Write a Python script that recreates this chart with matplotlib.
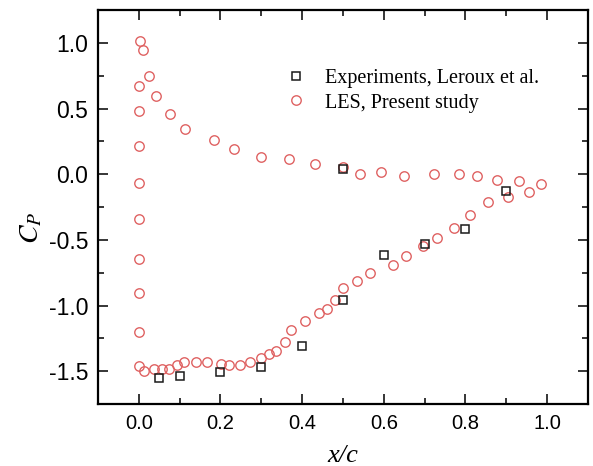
import matplotlib
matplotlib.use("Agg")
import matplotlib.pyplot as plt
from matplotlib.ticker import MultipleLocator

plt.rcParams["mathtext.fontset"] = "stix"

# LES pressure coefficient, suction side (upper branch of the curve)
les_upper_x = [0.002, 0.011, 0.025, 0.043, 0.076, 0.113, 0.184, 0.233, 0.300,
               0.369, 0.431, 0.500, 0.542, 0.592, 0.650, 0.723, 0.784, 0.828,
               0.877, 0.930, 0.955, 0.986]
les_upper_cp = [1.013, 0.947, 0.748, 0.593, 0.462, 0.341, 0.263, 0.190, 0.132,
                0.116, 0.076, 0.055, 0.005, 0.013, -0.013, 0.005, 0.005, -0.013,
                -0.045, -0.053, -0.134, -0.078]

# LES points clustered at the leading edge
les_le_x = [0.0, 0.0, 0.0, 0.0, 0.0, 0.0, 0.0, 0.0, 0.0]
les_le_cp = [0.674, 0.480, 0.214, -0.070, -0.339, -0.646, -0.902, -1.202, -1.462]

# LES pressure coefficient, lower branch
les_lower_x = [0.014, 0.038, 0.057, 0.074, 0.093, 0.111, 0.140, 0.166, 0.201,
               0.222, 0.249, 0.273, 0.300, 0.320, 0.336, 0.358, 0.372, 0.406,
               0.442, 0.462, 0.480, 0.499, 0.534, 0.567, 0.622, 0.654, 0.695,
               0.731, 0.772, 0.812, 0.855, 0.903]
les_lower_cp = [-1.495, -1.487, -1.487, -1.487, -1.452, -1.432, -1.432, -1.432,
                -1.447, -1.452, -1.452, -1.432, -1.396, -1.371, -1.346, -1.278,
                -1.184, -1.121, -1.055, -1.025, -0.955, -0.869, -0.813, -0.750,
                -0.692, -0.626, -0.545, -0.483, -0.409, -0.311, -0.215, -0.177]

# Experimental data (Leroux et al.)
exp_x = [0.05, 0.10, 0.20, 0.30, 0.40, 0.50, 0.60, 0.70, 0.80, 0.90, 0.50]
exp_cp = [-1.550, -1.533, -1.508, -1.467, -1.305, -0.955, -0.619, -0.530,
          -0.417, -0.126, 0.036]

les_x = les_upper_x + les_le_x + les_lower_x
les_cp = les_upper_cp + les_le_cp + les_lower_cp

fig = plt.figure(figsize=(5.93, 4.66), dpi=100)
ax = fig.add_axes([0.165, 0.133, 0.8266, 0.8455])

red = "#df6262"
ax.plot(exp_x, exp_cp, linestyle="none", marker="s", markersize=5.2,
        markerfacecolor="none", markeredgecolor="#1a1a1a", markeredgewidth=1.1,
        label="Experiments, Leroux et al.", zorder=3)
ax.plot(les_x, les_cp, linestyle="none", marker="o", markersize=6.8,
        markerfacecolor="none", markeredgecolor=red, markeredgewidth=1.0,
        label="LES, Present study", zorder=2)

ax.set_xlim(-0.1, 1.1)
ax.set_ylim(-1.75, 1.25)
ax.xaxis.set_major_locator(MultipleLocator(0.2))
ax.xaxis.set_minor_locator(MultipleLocator(0.1))
ax.yaxis.set_major_locator(MultipleLocator(0.5))
ax.yaxis.set_minor_locator(MultipleLocator(0.25))

ax.tick_params(which="both", direction="in", top=True, right=True, width=1.1,
               labelfontfamily="Liberation Sans")
ax.tick_params(which="major", length=7, pad=7)
ax.tick_params(which="minor", length=4)
ax.tick_params(axis="x", labelsize=14.5)
ax.tick_params(axis="y", labelsize=16.5)
ax.set_xticks([0.0, 0.2, 0.4, 0.6, 0.8, 1.0])
ax.set_xticklabels(["0.0", "0.2", "0.4", "0.6", "0.8", "1.0"])
ax.set_yticks([-1.5, -1.0, -0.5, 0.0, 0.5, 1.0])
ax.set_yticklabels(["-1.5", "-1.0", "-0.5", "0.0", "0.5", "1.0"])
for sp in ax.spines.values():
    sp.set_linewidth(1.6)

ax.set_xlabel("x/c", fontsize=19, fontfamily="Liberation Serif",
              fontstyle="italic", labelpad=9)
ax.set_ylabel("$C_P$", fontsize=20)
ax.yaxis.set_label_coords(-0.11, 0.447)

leg = ax.legend(loc="upper left", bbox_to_anchor=(0.367, 0.87), frameon=False,
                prop={"family": "Liberation Serif", "size": 14.5},
                handlelength=1.0, handletextpad=0.95, labelspacing=0.25,
                borderaxespad=0)

fig.savefig("out.png", dpi=100)
